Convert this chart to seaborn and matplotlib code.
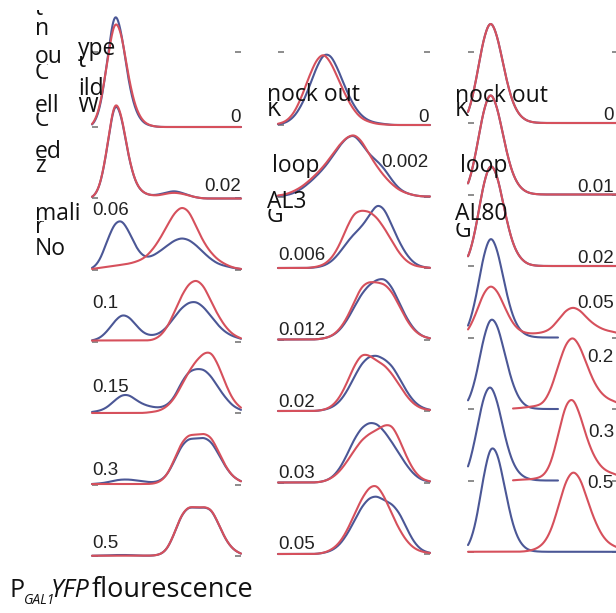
import numpy as np
import matplotlib
matplotlib.use("Agg")
import matplotlib.pyplot as plt
from matplotlib.transforms import Bbox
import seaborn as sns

# ---------------------------------------------------------------------------
# Data: relative cell counts on a fixed grid of normalised P_GAL1-YFP values
# (0, 0.05, ..., 1).  Blue = uninduced, red = induced.  One list per row.
# ---------------------------------------------------------------------------
grid = np.round(np.arange(0, 1.0001, 0.05), 2)

wild_labels = ["0", "0.02", "0.06", "0.1", "0.15", "0.3", "0.5"]
wild_blue = [
    [0, 12, 60, 126, 94, 38, 12, 3, 1, 0, 0, 0, 0, 0, 0, 0, 0, 0, 0, 0, 0],
    [0, 8, 46, 106, 84, 36, 12, 5, 3, 4, 6, 8, 6, 3, 1, 0, 0, 0, 0, 0, 0],
    [1, 8, 30, 50, 54, 40, 22, 13, 14, 19, 25, 31, 34, 32, 26, 18, 11, 6, 4, 2, 1],
    [1, 3, 10, 21, 29, 26, 16, 8, 6, 8, 14, 25, 35, 41, 42, 36, 26, 16, 9, 5, 3],
    [1, 2, 5, 12, 18, 18, 12, 8, 6, 5, 7, 14, 30, 41, 43, 43, 36, 24, 14, 6, 3],
    [0.5, 1, 2, 4, 5, 5, 4, 3, 2, 3, 8, 22, 39, 46, 45, 47, 43, 30, 16, 7, 3],
    [0.3, 0.3, 0.5, 1, 1, 1, 0.5, 0.3, 0.3, 1, 5, 21, 42, 50, 48, 49, 48, 32, 15, 6, 2],
]
wild_red = [
    [0, 15, 62, 116, 96, 44, 15, 4, 1, 0, 0, 0, 0, 0, 0, 0, 0, 0, 0, 0, 0],
    [0, 8, 46, 106, 84, 36, 12, 5, 3, 3, 5, 6, 5, 3, 1, 0, 0, 0, 0, 0, 0],
    [1, 2, 3, 4, 5, 6, 8, 11, 18, 28, 41, 54, 61, 57, 41, 26, 16, 9, 5, 2, 1],
    [1, 1, 1, 1, 1, 1, 1, 1, 1, 4, 12, 27, 44, 56, 60, 54, 38, 24, 13, 6, 3],
    [0, 0, 0, 0, 0, 0, 0, 0, 1, 2, 6, 14, 28, 43, 54, 62, 64, 49, 28, 12, 5],
    [0.5, 0.5, 0.5, 0.5, 0.5, 0.5, 0.5, 0.5, 0.5, 2, 8, 24, 43, 51, 50, 52, 49, 33, 17, 7, 3],
    [0.3, 0.3, 0.3, 0.3, 0.3, 0.3, 0.3, 0.3, 0.3, 1, 5, 21, 42, 50, 48, 49, 48, 32, 15, 6, 2],
]

gal3_labels = ["0", "0.002", "0.006", "0.012", "0.02", "0.03", "0.05"]
gal3_blue = [
    [0.5, 2, 7, 18, 36, 58, 74, 72, 55, 35, 19, 9, 4, 2, 1, 0, 0, 0, 0, 0, 0],
    [0.5, 1, 3, 7, 13, 20, 28, 38, 50, 59, 63, 53, 42, 36, 28, 16, 7, 3, 1, 0, 0],
    [0, 0, 0, 0, 0, 0.5, 2, 6, 14, 25, 34, 41, 52, 65, 60, 42, 25, 12, 4, 1, 0],
    [0, 0, 0, 0, 0, 0, 1, 3, 8, 18, 32, 46, 55, 60, 62, 53, 36, 20, 9, 3, 1],
    [0, 0, 0, 0, 0, 0, 1, 3, 8, 18, 33, 47, 54, 55, 51, 45, 32, 18, 8, 3, 1],
    [0, 0, 0, 0, 0, 0, 1, 4, 12, 26, 43, 55, 60, 59, 51, 40, 28, 16, 7, 2, 1],
    [0, 0, 0, 0, 0, 0, 1, 3, 8, 18, 32, 47, 56, 58, 53, 50, 41, 24, 10, 3, 1],
]
gal3_red = [
    [1, 3, 10, 25, 46, 64, 72, 61, 44, 27, 14, 6, 3, 1, 0.5, 0, 0, 0, 0, 0, 0],
    [1, 2, 5, 9, 15, 22, 30, 40, 51, 59, 63, 56, 42, 30, 20, 12, 6, 3, 1, 0, 0],
    [0, 0, 0, 0, 0, 1, 3, 9, 21, 40, 56, 58, 57, 51, 40, 27, 14, 6, 2, 1, 0],
    [0, 0, 0, 0, 0, 0, 1, 3, 9, 20, 37, 54, 58, 57, 56, 48, 33, 18, 8, 3, 1],
    [0, 0, 0, 0, 0, 0, 1, 4, 12, 27, 46, 59, 57, 51, 47, 38, 26, 14, 6, 2, 1],
    [0, 0, 0, 0, 0, 0, 1, 4, 10, 20, 32, 43, 49, 53, 58, 59, 43, 24, 10, 3, 1],
    [0, 0, 0, 0, 0, 0, 1, 4, 10, 22, 39, 56, 68, 71, 58, 40, 24, 12, 5, 2, 1],
]

gal80_labels = ["0", "0.01", "0.02", "0.05", "0.2", "0.3", "0.5"]
gal80_blue = [
    [6, 38, 84, 108, 86, 46, 18, 6, 1.5, 0.3, 0, 0, 0, 0, 0, 0, 0, 0, 0, 0, 0],
    [6, 38, 84, 108, 86, 46, 18, 6, 1.5, 0.3, 0, 0, 0, 0, 0, 0, 0, 0, 0, 0, 0],
    [5, 34, 82, 108, 90, 50, 20, 7, 1.5, 0.3, 0, 0, 0, 0, 0, 0, 0, 0, 0, 0, 0],
    [8, 36, 82, 108, 88, 48, 19, 6, 1.5, 0.3, 0, 0, 0, 0, 0, 0, 0, 0, 0, 0, 0],
    [5, 27, 68, 93, 82, 50, 22, 7, 1.5, 0.3, 0, 0, 0, 0, 0, 0, 0, 0, 0, 0, 0],
    [9, 40, 80, 95, 74, 38, 15, 5, 1.5, 0.3, 0, 0, 0, 0, 0, 0, 0, 0, 0, 0, 0],
    [3, 22, 66, 100, 90, 54, 22, 7, 1.5, 0.5, 0.2, 0.2, 0.2, 0.2, 0.2, 0.2, 0.2, 0.2, 0.2, 0.2, 0.2],
]
gal80_red = [
    [6, 38, 84, 108, 86, 46, 18, 6, 1.5, 0.3, 0, 0, 0, 0, 0, 0, 0, 0, 0, 0, 0],
    [6, 38, 84, 108, 86, 46, 18, 6, 1.5, 0.3, 0, 0, 0, 0, 0, 0, 0, 0, 0, 0, 0],
    [5, 34, 82, 108, 90, 50, 20, 7, 1.5, 0.3, 0, 0, 0, 0, 0, 0, 0, 0, 0, 0, 0],
    [6, 22, 44, 54, 46, 28, 13, 6, 4, 4, 5, 8, 17, 27, 31, 27, 18, 12, 8, 6, 5],
    [0, 0, 0, 0, 0, 0, 0.5, 1, 2, 3, 5, 18, 44, 68, 77, 64, 42, 24, 14, 9, 7],
    [0, 0, 0, 0, 0, 0, 0, 1, 1, 2, 4, 15, 47, 82, 90, 68, 40, 22, 12, 8, 6],
    [0.3, 0.3, 0.3, 0.3, 0.3, 0.3, 0.3, 0.3, 1, 3, 8, 21, 48, 79, 92, 82, 55, 32, 16, 8, 5],
]
# measured range of each GAL80-loop trace
gal80_blue_span = [(0, 1), (0, 1), (0, 1), (0, 0.6), (0, 0.6), (0, 0.6), (0, 1)]
gal80_red_span = [(0, 1), (0, 1), (0, 1), (0, 1), (0.3, 1), (0.3, 1), (0, 1)]

# ---------------------------------------------------------------------------
# Layout (pixels)
# ---------------------------------------------------------------------------
W, H = 616, 613
STEP = 71.5
TOP_Y = 52
BLUE = "#4b5796"
RED = "#d6505c"
BW = 0.032
DX = 0.05

sns.set_theme(style="white")
plt.rcParams["font.family"] = ["Liberation Sans", "DejaVu Sans"]

fig = plt.figure(figsize=(W / 100, H / 100), dpi=100)
fig.patch.set_facecolor("white")


def fixed_bw(kde):
    """Bandwidth factor giving the same absolute kernel width for every trace."""
    x = kde.dataset[0]
    var = np.cov(x, aweights=kde.weights)
    return BW / np.sqrt(var)


def draw_column(blue, red, x0, x1, base0, blue_span=None, red_span=None):
    for r in range(len(blue)):
        b = base0 + r * STEP
        top = TOP_Y if r == 0 else b - STEP
        ax = fig.add_axes([x0 / W, 1 - b / H, (x1 - x0) / W, (b - top) / H])
        ax.patch.set_alpha(0)
        for w, col, span in ((blue[r], BLUE, blue_span[r] if blue_span else (0, 1)),
                             (red[r], RED, red_span[r] if red_span else (0, 1))):
            sns.kdeplot(x=grid, weights=w, bw_method=fixed_bw, clip=span,
                        gridsize=400, cut=3, color=col, lw=1.5, ax=ax)
        for ln in ax.lines:
            ln.set_clip_on(False)
        # y range of this row: pixel height over the row's mean cell total
        scale = 0.5 * (np.sum(blue[r]) + np.sum(red[r])) * DX
        ytop = (b - top) / scale
        ax.set_xlim(0, 1)
        ax.set_ylim(0, ytop)
        ax.set_xticks([])
        ax.set_yticks([0, ytop] if r == 0 else [0])
        ax.tick_params(axis="y", left=True, right=True, direction="in",
                       length=4.5, width=1.1, color="#6e6e6e",
                       labelleft=False, labelright=False)
        ax.set_xlabel("")
        ax.set_ylabel("")
        for s in ax.spines.values():
            s.set_visible(False)


draw_column(wild_blue, wild_red, 92, 241, 127)
draw_column(gal3_blue, gal3_red, 278, 430, 125)
draw_column(gal80_blue, gal80_red, 468, 618, 123, gal80_blue_span, gal80_red_span)


def put(s, x, y, clip_top=None, **kw):
    t = fig.text(x / W, 1 - y / H, s, va="baseline", **kw)
    if clip_top is not None:
        t.set_clip_box(Bbox([[0, 0], [W, H - clip_top]]))
        t.set_clip_on(True)
    return t


# concentration labels
num = dict(fontsize=13.5, color="#222222", family=["Liberation Sans", "DejaVu Sans"])
wild_pos = [("right", 241, 122), ("right", 241, 191), ("left", 92, 215),
            ("left", 92, 308), ("left", 92, 392), ("left", 92, 475), ("left", 92, 548)]
gal3_pos = [("right", 429, 122), ("right", 429, 167), ("left", 278, 260),
            ("left", 278, 335), ("left", 278, 407), ("left", 278, 478), ("left", 278, 549)]
gal80_pos = [("right", 614, 120), ("right", 614, 192), ("right", 614, 263),
             ("right", 614, 308), ("right", 614, 362), ("right", 614, 437), ("right", 614, 488)]
for labels, pos in ((wild_labels, wild_pos), (gal3_labels, gal3_pos), (gal80_labels, gal80_pos)):
    for s, (ha, x, y) in zip(labels, pos):
        put(s, x, y, ha=ha, **num)

# stacked label fragments
lab = dict(fontsize=16.5, color="#111111", family=["Open Sans", "DejaVu Sans"])
fragments = [
    ("t", 35, 15, 10), ("n", 35, 35, None),
    ("C", 35, 79, 64), ("ou", 35, 63, None),
    ("C", 35, 126, 113), ("ell", 35, 112, None),
    ("z", 35, 172, 159), ("ed", 35, 158, None),
    ("r", 35, 233, 221), ("mali", 35, 220, None),
    ("No", 35, 255, None),
    ("t", 78, 67, 56), ("ype", 78, 55, None),
    ("W", 78, 112, 97), ("ild", 78, 95, None),
    ("K", 267, 116, 102), ("nock out", 267, 101, None),
    ("loop", 272, 172, None),
    ("G", 267, 222, 209), ("AL3", 267, 208, None),
    ("K", 455, 116, 102), ("nock out", 455, 102, None),
    ("loop", 460, 172, None),
    ("G", 455, 237, 223), ("AL80", 455, 220, None),
]
for s, x, y, c in fragments:
    put(s, x, y, clip_top=c, **lab)

# x-axis caption
cap = dict(color="#111111", family=["Open Sans", "DejaVu Sans"])
put("P", 10, 597, fontsize=18, **cap)
put("GAL1", 24, 604, fontsize=10, style="italic", **cap)
put("YFP", 51, 597, fontsize=18, style="italic", **cap)
put("flourescence", 92, 597, fontsize=19.5, **cap)

fig.savefig("out.png", dpi=100, facecolor="white")
